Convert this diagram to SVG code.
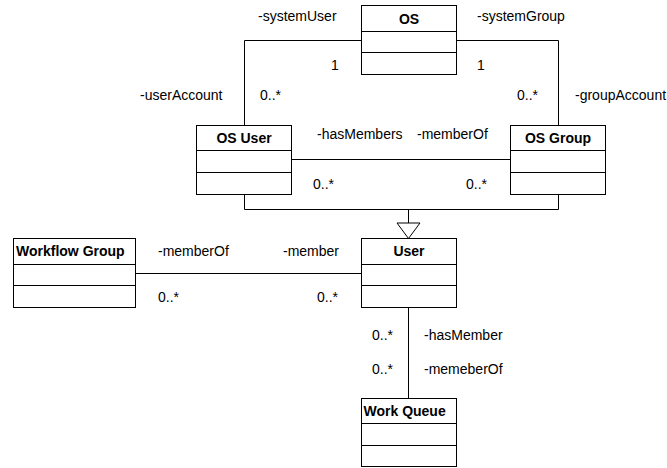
<svg xmlns="http://www.w3.org/2000/svg" width="667" height="468" viewBox="0 0 667 468">
<style>
.box{fill:#fff;stroke:#000;stroke-width:1}
.ln{stroke:#000;stroke-width:1;fill:none}
.t{font-family:"Liberation Sans",Arial,sans-serif;font-size:14px;font-weight:bold;fill:#000}
.l{font-family:"Liberation Sans",Arial,sans-serif;font-size:14px;fill:#000}
</style>
<rect width="667" height="468" fill="#fff"/>
<g id="connectors">
<polyline class="ln" points="361.5,40.5 244.5,40.5 244.5,125"/>
<polyline class="ln" points="456.5,40.5 558.5,40.5 558.5,125"/>
<line class="ln" x1="291.5" y1="159.5" x2="510.5" y2="159.5"/>
<polyline class="ln" points="244.5,194 244.5,209.5 558.5,209.5 558.5,194"/>
<line class="ln" x1="408.5" y1="209.5" x2="408.5" y2="223"/>
<polygon class="box" points="408.5,238.5 397,223 420,223"/>
<line class="ln" x1="135.5" y1="273.5" x2="361.5" y2="273.5"/>
<line class="ln" x1="408.5" y1="307.5" x2="408.5" y2="398"/>
</g>
<g id="labels">
<text class="l" x="258" y="21">-systemUser</text>
<text class="l" x="477" y="21">-systemGroup</text>
<text class="l" x="331" y="70">1</text>
<text class="l" x="477" y="70">1</text>
<text class="l" x="140" y="100">-userAccount</text>
<text class="l" x="260" y="100">0..*</text>
<text class="l" x="517" y="100">0..*</text>
<text class="l" x="575" y="100">-groupAccount</text>
<text class="l" x="317" y="139">-hasMembers</text>
<text class="l" x="417" y="139">-memberOf</text>
<text class="l" x="313" y="189">0..*</text>
<text class="l" x="466" y="189">0..*</text>
<text class="l" x="158" y="256">-memberOf</text>
<text class="l" x="283" y="256">-member</text>
<text class="l" x="158" y="302">0..*</text>
<text class="l" x="317" y="302">0..*</text>
<text class="l" x="372" y="340">0..*</text>
<text class="l" x="424" y="340">-hasMember</text>
<text class="l" x="372" y="374">0..*</text>
<text class="l" x="424" y="374">-memeberOf</text>
</g>
<g id="os">
<rect class="box" x="361.5" y="5.5" width="95" height="69"/>
<line class="ln" x1="361.5" y1="31.5" x2="456.5" y2="31.5"/>
<line class="ln" x1="361.5" y1="52.5" x2="456.5" y2="52.5"/>
<text class="t" x="409" y="24" text-anchor="middle">OS</text>
</g>
<g id="os-user">
<rect class="box" x="196.5" y="125.5" width="95" height="69"/>
<line class="ln" x1="196.5" y1="150.5" x2="291.5" y2="150.5"/>
<line class="ln" x1="196.5" y1="172.5" x2="291.5" y2="172.5"/>
<text class="t" x="244" y="143" text-anchor="middle">OS User</text>
</g>
<g id="os-group">
<rect class="box" x="510.5" y="125.5" width="95" height="69"/>
<line class="ln" x1="510.5" y1="150.5" x2="605.5" y2="150.5"/>
<line class="ln" x1="510.5" y1="172.5" x2="605.5" y2="172.5"/>
<text class="t" x="558" y="143" text-anchor="middle">OS Group</text>
</g>
<g id="workflow-group">
<rect class="box" x="13.5" y="238.5" width="122" height="69"/>
<line class="ln" x1="13.5" y1="264.5" x2="135.5" y2="264.5"/>
<line class="ln" x1="13.5" y1="285.5" x2="135.5" y2="285.5"/>
<text class="t" x="16" y="256">Workflow Group</text>
</g>
<g id="user">
<rect class="box" x="361.5" y="238.5" width="95" height="69"/>
<line class="ln" x1="361.5" y1="264.5" x2="456.5" y2="264.5"/>
<line class="ln" x1="361.5" y1="285.5" x2="456.5" y2="285.5"/>
<text class="t" x="409" y="256" text-anchor="middle">User</text>
</g>
<g id="work-queue">
<rect class="box" x="361.5" y="398.5" width="95" height="68"/>
<line class="ln" x1="361.5" y1="423.5" x2="456.5" y2="423.5"/>
<line class="ln" x1="361.5" y1="445.5" x2="456.5" y2="445.5"/>
<text class="t" x="363.5" y="416">Work Queue</text>
</g>
</svg>
